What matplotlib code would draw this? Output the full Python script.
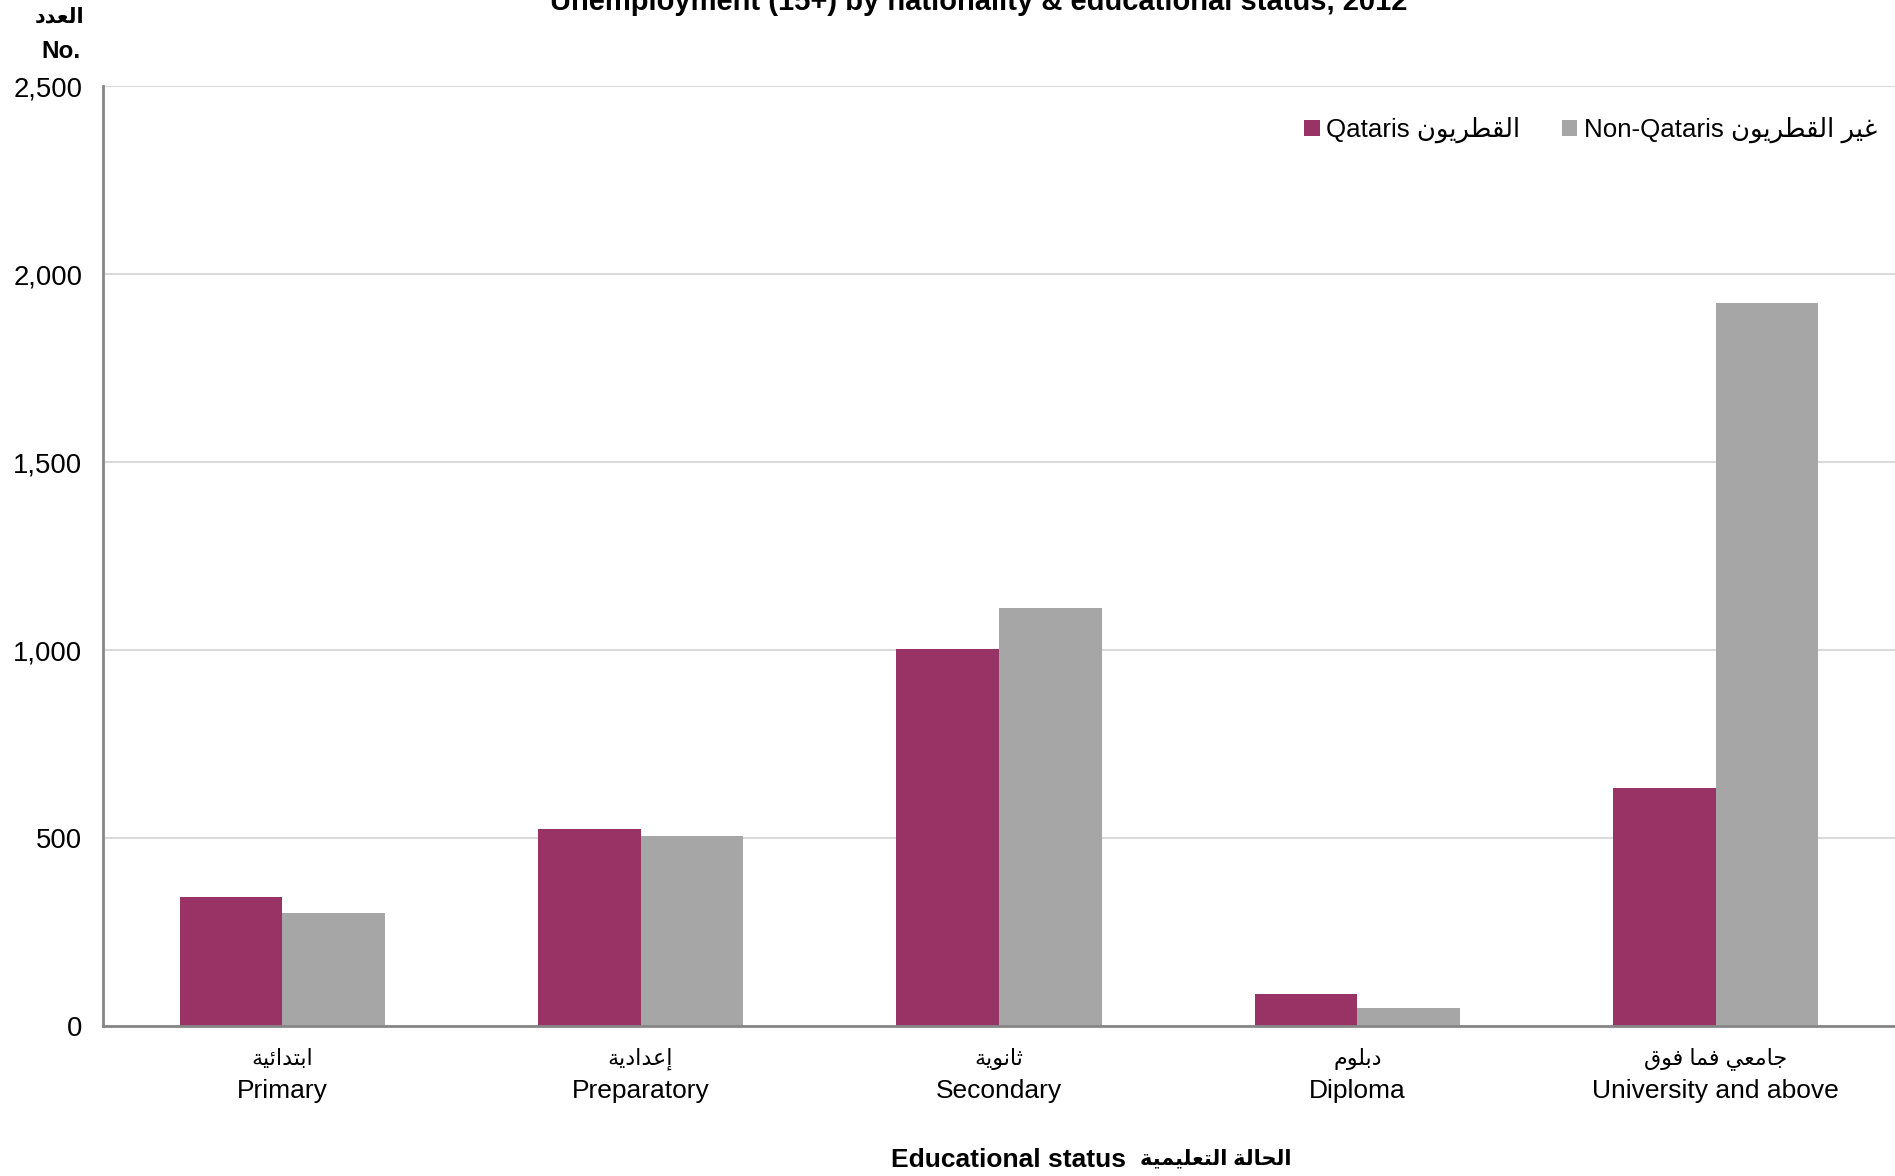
import matplotlib
matplotlib.use("Agg")
import matplotlib.pyplot as plt
import numpy as np

plt.rcParams['font.family'] = ['Liberation Sans', 'DejaVu Sans']

categories_en = ["Primary", "Preparatory", "Secondary", "Diploma", "University and above"]
categories_ar = ["ابتدائية", "إعدادية", "ثانوية", "دبلوم", "جامعي فما فوق"]
qataris = [342, 523, 1002, 86, 634]
non_qataris = [300, 505, 1112, 48, 1922]
yticks = [0, 500, 1000, 1500, 2000, 2500]

# matplotlib does no arabic shaping, so map letters to presentation forms
# (isolated, final, initial, medial); None = letter does not join forward
FORMS = {
    'ا': (0xFE8D, 0xFE8E, None, None), 'إ': (0xFE87, 0xFE88, None, None),
    'ب': (0xFE8F, 0xFE90, 0xFE91, 0xFE92), 'ت': (0xFE95, 0xFE96, 0xFE97, 0xFE98),
    'ث': (0xFE99, 0xFE9A, 0xFE9B, 0xFE9C), 'ج': (0xFE9D, 0xFE9E, 0xFE9F, 0xFEA0),
    'ح': (0xFEA1, 0xFEA2, 0xFEA3, 0xFEA4), 'د': (0xFEA9, 0xFEAA, None, None),
    'ر': (0xFEAD, 0xFEAE, None, None), 'ط': (0xFEC1, 0xFEC2, 0xFEC3, 0xFEC4),
    'ع': (0xFEC9, 0xFECA, 0xFECB, 0xFECC), 'غ': (0xFECD, 0xFECE, 0xFECF, 0xFED0),
    'ف': (0xFED1, 0xFED2, 0xFED3, 0xFED4), 'ق': (0xFED5, 0xFED6, 0xFED7, 0xFED8),
    'ل': (0xFEDD, 0xFEDE, 0xFEDF, 0xFEE0), 'م': (0xFEE1, 0xFEE2, 0xFEE3, 0xFEE4),
    'ن': (0xFEE5, 0xFEE6, 0xFEE7, 0xFEE8), 'و': (0xFEED, 0xFEEE, None, None),
    'ي': (0xFEF1, 0xFEF2, 0xFEF3, 0xFEF4), 'ئ': (0xFE89, 0xFE8A, 0xFE8B, 0xFE8C),
    'ة': (0xFE93, 0xFE94, None, None),
}


def ar(text):
    out = []
    for i, c in enumerate(text):
        if c not in FORMS:
            out.append(c)
            continue
        prev = text[i - 1] if i > 0 else None
        nxt = text[i + 1] if i + 1 < len(text) else None
        jp = prev in FORMS and FORMS[prev][2] is not None
        jn = nxt in FORMS and FORMS[c][2] is not None
        iso, fin, ini, med = FORMS[c]
        if jp and jn:
            out.append(chr(med))
        elif jp:
            out.append(chr(fin))
        elif jn:
            out.append(chr(ini))
        else:
            out.append(chr(iso))
    return ''.join(out)[::-1]


W, H = 1895, 1176
fig = plt.figure(figsize=(W / 100, H / 100), dpi=100)
ax = fig.add_axes([103 / W, 1 - 1026 / H, 1 - 103 / W, (1026 - 86) / H])

x = np.arange(len(categories_en))
bw = 0.286
ax.bar(x - bw / 2, qataris, bw, color='#993366', label='Qataris ' + ar('القطريون'), zorder=3)
ax.bar(x + bw / 2, non_qataris, bw, color='#A6A6A6', label='Non-Qataris ' + ar('غير القطريون'), zorder=3)

ax.set_xlim(-0.5, len(categories_en) - 0.5)
ax.set_ylim(0, 2500)
ax.set_yticks(yticks)
ax.set_yticklabels([f"{v:,}" for v in yticks], fontsize=19.8)
ax.yaxis.grid(True, color='#D9D9D9', linewidth=1.5, zorder=0)
ax.tick_params(axis='y', length=0, pad=15)
ax.set_xticks(x)
ax.set_xticklabels([])
ax.tick_params(axis='x', length=0)
for s in ['top', 'right']:
    ax.spines[s].set_visible(False)
for s in ['left', 'bottom']:
    ax.spines[s].set_color('#868686')
    ax.spines[s].set_linewidth(2)
    ax.spines[s].set_zorder(4)

for xi, en, a in zip(x, categories_en, categories_ar):
    ax.annotate(ar(a), (xi, 0), xycoords=('data', 'axes fraction'), xytext=(0, -33),
                textcoords='offset pixels', ha='center', va='center', fontsize=16)
    ax.annotate(en, (xi, 0), xycoords=('data', 'axes fraction'), xytext=(0, -65),
                textcoords='offset pixels', ha='center', va='center', fontsize=19)

fig.text(1126 / W, 1 - 1160 / H, 'Educational status',
         ha='right', va='center', fontsize=19, fontweight='bold')
fig.text(1140 / W, 1 - 1159 / H, ar('الحالة التعليمية'),
         ha='left', va='center', fontsize=15, fontweight='bold')
fig.text(979 / W, 1 - 10 / H, 'Unemployment (15+) by nationality & educational status, 2012',
         ha='center', va='baseline', fontsize=21, fontweight='bold')
fig.text(60 / W, 1 - 17 / H, ar('العدد'), ha='center', va='center', fontsize=15, fontweight='bold')
fig.text(61 / W, 1 - 51 / H, 'No.', ha='center', va='center', fontsize=17.5, fontweight='bold')

ax.legend(loc='center right', bbox_to_anchor=(1877 / W, 1 - 130 / H), bbox_transform=fig.transFigure,
          ncol=2, frameon=False, fontsize=18.6, handlelength=0.6, handleheight=0.6,
          handletextpad=0.25, columnspacing=1.6, borderpad=0, borderaxespad=0)

fig.savefig('out.png', dpi=100)
